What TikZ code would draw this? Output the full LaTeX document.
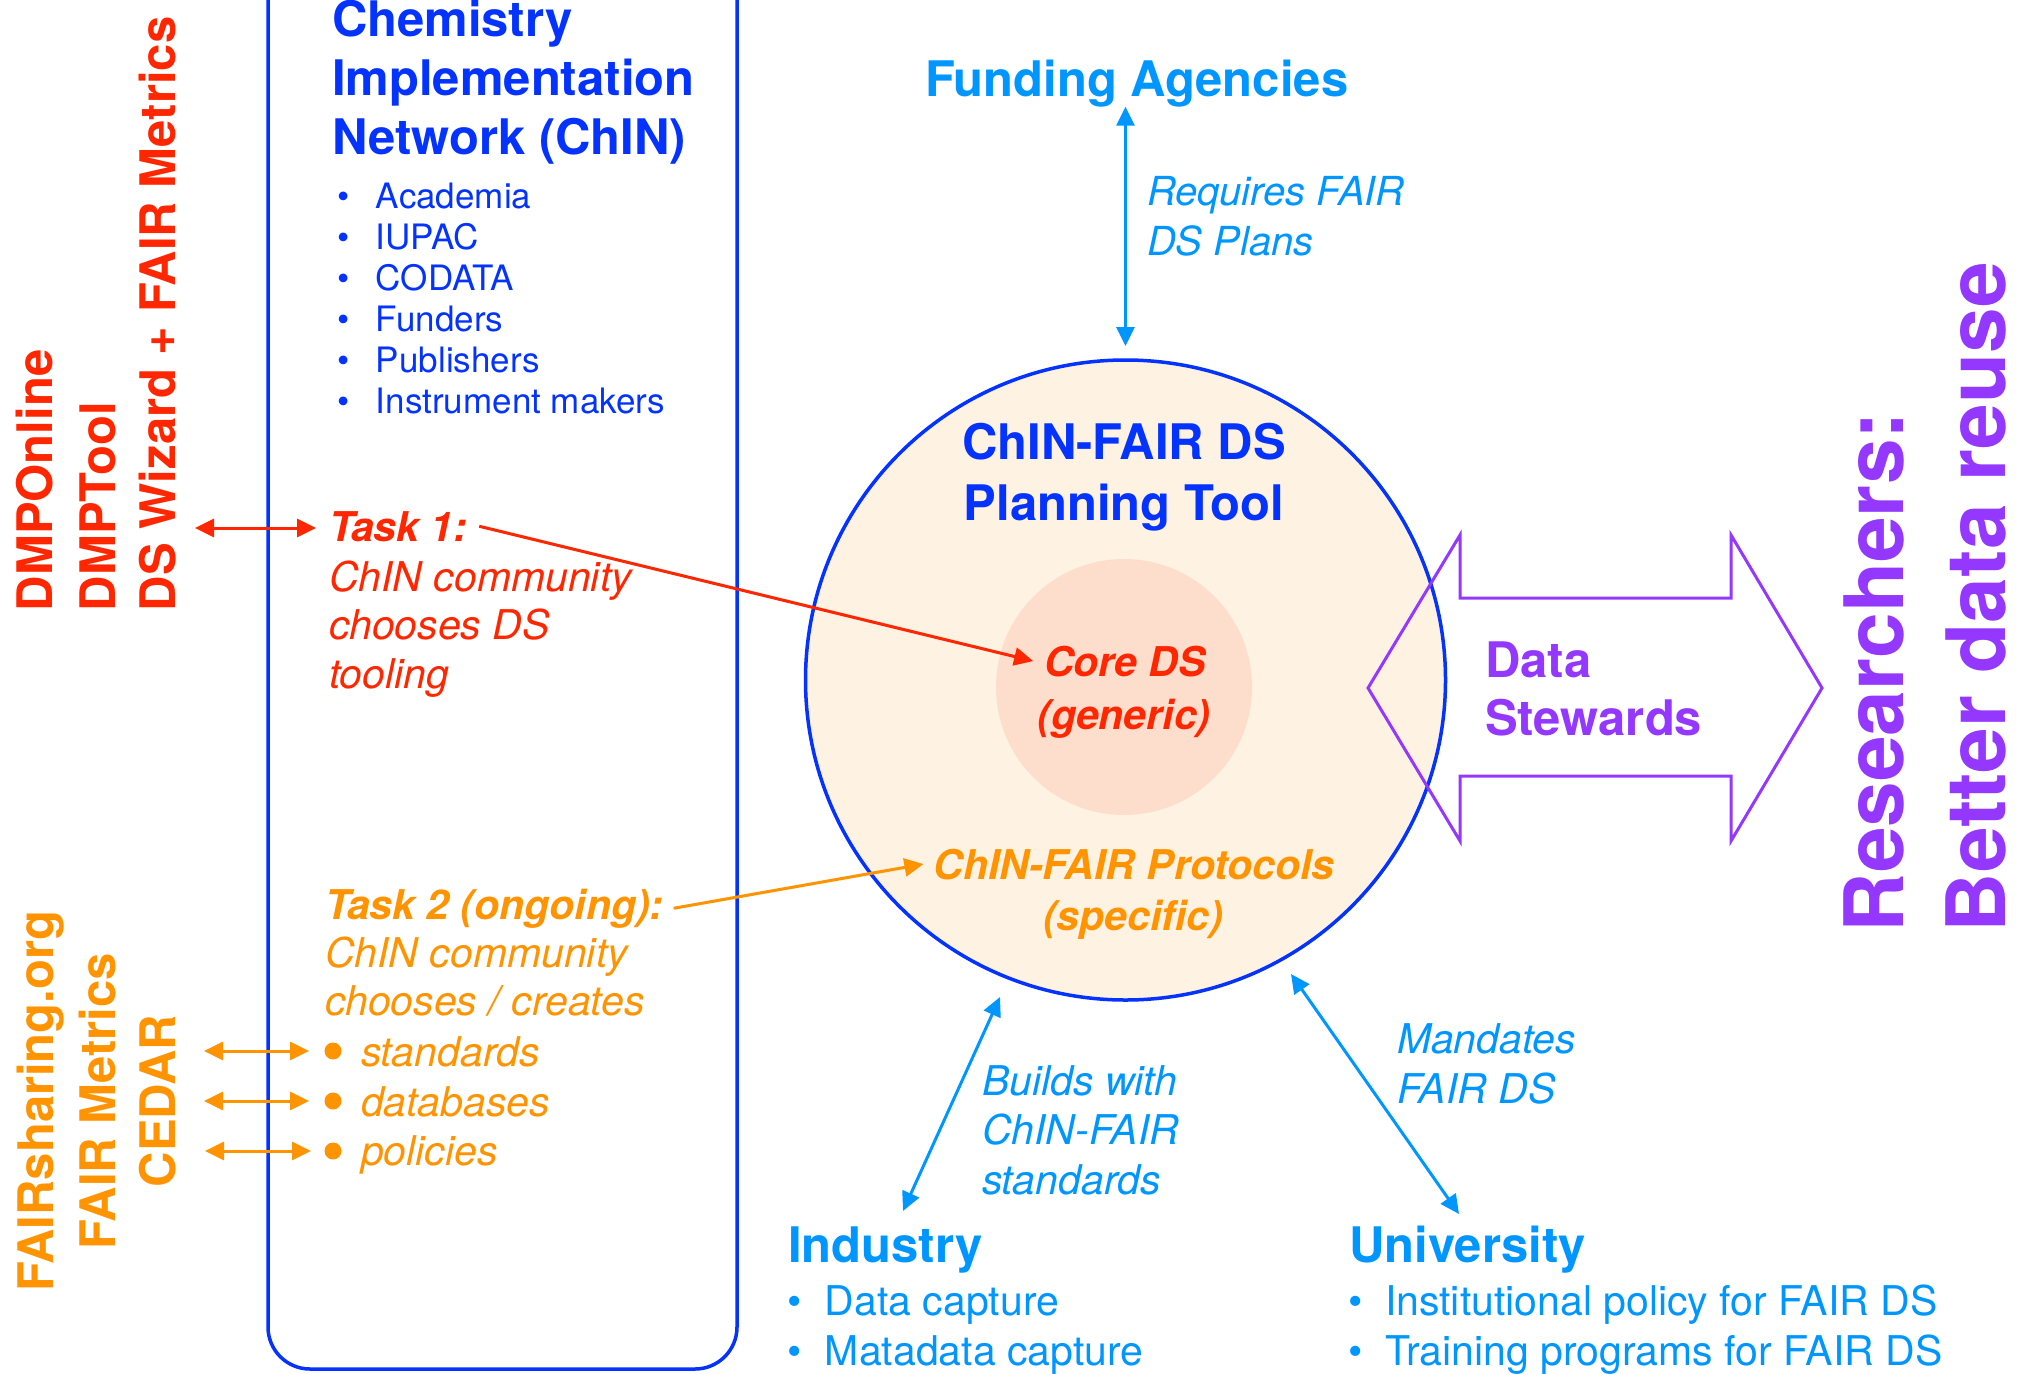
\documentclass[tikz,border=0pt]{standalone}
\usepackage{fontspec}
\setmainfont{TeX Gyre Heros}
\usetikzlibrary{arrows.meta}
\definecolor{kblue}{RGB}{4,51,255}
\definecolor{kaqua}{RGB}{0,150,255}
\definecolor{kred}{RGB}{255,38,0}
\definecolor{korange}{RGB}{255,147,0}
\definecolor{kpurple}{RGB}{148,55,255}
\definecolor{kpeach}{RGB}{254,242,226}
\definecolor{ksalmon}{RGB}{253,221,203}
\newcommand\setfs[1]{\fontsize{#1pt}{#1pt}\selectfont}
\begin{document}
\begin{tikzpicture}[x=1pt,y=-1pt,
  every node/.style={inner sep=0pt,outer sep=0pt},
  hd/.style={-{Triangle[length=19pt,width=18pt]}},
  dhd/.style={{Triangle[length=19pt,width=18pt]}-{Triangle[length=19pt,width=18pt]}},
  conn/.style={line width=3pt},
  vlabel/.style={rotate=90,font=\setfs{49}\bfseries},
  ttl/.style={font=\setfs{49}\bfseries},
  lst/.style={font=\setfs{35},text=kblue,anchor=base west},
  itl/.style={font=\setfs{41}\itshape},
  bit/.style={font=\setfs{41}\bfseries\itshape},
  reg/.style={font=\setfs{41}},
  obul/.style={font=\setfs{41}\itshape,text=korange,anchor=base west},
  odot/.style={circle,fill=korange,minimum size=17pt}]
\useasboundingbox (0,0) rectangle (2025,1373);
\clip (0,0) rectangle (2025,1373);

% ChIN frame
\node[draw=kblue,line width=3.5pt,rounded corners=42pt,minimum width=469pt,minimum height=1429pt] (chinbox) at (502.5,654.5) {};
\node[ttl,text=kblue,anchor=base west] (chem1) at (332,36) {Chemistry};
\node[ttl,text=kblue,anchor=base west] (chem2) at (332,95) {Implementation};
\node[ttl,text=kblue,anchor=base west] (chem3) at (332,154) {Network (ChIN)};
\node[lst] (l1) at (337,208) {\makebox[39pt][l]{•}Academia};
\node[lst] (l2) at (337,249) {\makebox[39pt][l]{•}IUPAC};
\node[lst] (l3) at (337,290) {\makebox[39pt][l]{•}CODATA};
\node[lst] (l4) at (337,331) {\makebox[39pt][l]{•}Funders};
\node[lst] (l5) at (337,372) {\makebox[39pt][l]{•}Publishers};
\node[lst] (l6) at (337,413) {\makebox[39pt][l]{•}Instrument makers};

% red tools
\node[vlabel,text=kred,anchor=base west] (dmpo) at (52,611) {DMPOnline};
\node[vlabel,text=kred,anchor=base west] (dmpt) at (115,611) {DMPTool};
\node[vlabel,text=kred,anchor=base west] (dsw) at (175,611) {DS Wizard + FAIR Metrics};
\coordinate (r1) at (195,528);
\coordinate (r2) at (316,528);
\draw[conn,dhd,kred] (r1) -- (r2);

\node[bit,text=kred,anchor=base west] (t1) at (329,541) {Task 1:};
\node[itl,text=kred,anchor=base west] (t1a) at (329,591) {ChIN community};
\node[itl,text=kred,anchor=base west] (t1b) at (329,639) {chooses DS};
\node[itl,text=kred,anchor=base west] (t1c) at (329,688) {tooling};

% orange resources
\node[vlabel,text=korange,anchor=base] (fsh) at (53,1101) {FAIRsharing.org};
\node[vlabel,text=korange,anchor=base] (fmet) at (115,1101) {FAIR Metrics};
\node[vlabel,text=korange,anchor=base] (cedar) at (175,1101) {CEDAR};
\coordinate (o1a) at (204,1051); \coordinate (o1b) at (309,1051);
\coordinate (o2a) at (204,1101); \coordinate (o2b) at (309,1101);
\coordinate (o3a) at (205,1151); \coordinate (o3b) at (311,1151);
\draw[conn,dhd,korange] (o1a) -- (o1b);
\draw[conn,dhd,korange] (o2a) -- (o2b);
\draw[conn,dhd,korange] (o3a) -- (o3b);

\node[bit,text=korange,anchor=base west] (t2) at (325,919) {Task 2 (ongoing):};
\node[itl,text=korange,anchor=base west] (t2a) at (325,967) {ChIN community};
\node[itl,text=korange,anchor=base west] (t2b) at (325,1015) {chooses / creates};
\node[odot] (d1) at (333,1051) {};
\node[odot] (d2) at (333,1101) {};
\node[odot] (d3) at (333,1151) {};
\node[obul] (s1) at (361,1066) {standards};
\node[obul] (s2) at (361,1116) {databases};
\node[obul] (s3) at (361,1165) {policies};

% planning tool circle
\node[circle,draw=kblue,fill=kpeach,line width=3.5pt,minimum size=640pt] (circ) at (1125.5,680) {};
\node[circle,fill=ksalmon,minimum size=256pt] (inner) at (1124,687) {};
\node[ttl,text=kblue,anchor=base] (tool1) at (1124,459) {ChIN-FAIR DS};
\node[ttl,text=kblue,anchor=base] (tool2) at (1124,520) {Planning Tool};
\node[bit,text=kred,anchor=base] (core) at (1125,676) {Core DS};
\node[bit,text=kred,anchor=base] (gen) at (1124,729) {(generic)};
\node[bit,text=korange,anchor=base] (prot) at (1134,879) {ChIN-FAIR Protocols};
\node[bit,text=korange,anchor=base] (spec) at (1133,930) {(specific)};

\draw[conn,hd,kred] ([xshift=12pt]t1.east) -- ([xshift=-11pt]core.west);
\draw[conn,hd,korange] ([xshift=10pt]t2.east) -- ([xshift=-10pt]prot.west);

% funding
\node[ttl,text=kaqua,anchor=base west] (fund) at (925,96) {Funding Agencies};
\draw[conn,dhd,kaqua] (circ.north |- fund.south) -- ([yshift=14pt]circ.north);
\node[font=\setfs{40}\itshape,text=kaqua,anchor=base west] (req1) at (1147,205) {Requires FAIR};
\node[font=\setfs{40}\itshape,text=kaqua,anchor=base west] (req2) at (1147,255) {DS Plans};

% data stewards arrow
\draw[kpurple,line width=3pt,line join=miter]
  (1368,688) -- (1460,535) -- (1460,598) -- (1731,598) -- (1731,535) -- (1822,688)
  -- (1731,841) -- (1731,776) -- (1460,776) -- (1460,841) -- cycle;
\node[ttl,text=kpurple,anchor=base west] (ds1) at (1485,677) {Data};
\node[ttl,text=kpurple,anchor=base west] (ds2) at (1485,735) {Stewards};
\node[rotate=90,font=\setfs{82}\bfseries,text=kpurple,anchor=base west] (res) at (1903,932) {Researchers:};
\node[rotate=90,font=\setfs{82}\bfseries,text=kpurple,anchor=base west] (bdr) at (2005,932) {Better data reuse};

% industry / university
\coordinate (ia) at (1000,997); \coordinate (ib) at (903,1211);
\draw[conn,dhd,kaqua] (ia) -- (ib);
\coordinate (ua) at (1291,974); \coordinate (ub) at (1459,1214);
\draw[conn,dhd,kaqua] (ua) -- (ub);
\node[itl,text=kaqua,anchor=base west] (b1) at (982,1095) {Builds with};
\node[itl,text=kaqua,anchor=base west] (b2) at (982,1144) {ChIN-FAIR};
\node[itl,text=kaqua,anchor=base west] (b3) at (982,1194) {standards};
\node[itl,text=kaqua,anchor=base west] (m1) at (1397,1053) {Mandates};
\node[itl,text=kaqua,anchor=base west] (m2) at (1397,1103) {FAIR DS};

\node[ttl,text=kaqua,anchor=base west] (ind) at (788,1262) {Industry};
\node[reg,text=kaqua,anchor=base west] (ind1) at (787.5,1315) {\makebox[37.5pt][l]{•}Data capture};
\node[reg,text=kaqua,anchor=base west] (ind2) at (787.5,1365) {\makebox[37.5pt][l]{•}Matadata capture};
\node[ttl,text=kaqua,anchor=base west] (uni) at (1349,1262) {University};
\node[reg,text=kaqua,anchor=base west] (uni1) at (1348,1315) {\makebox[37pt][l]{•}Institutional policy for FAIR DS};
\node[reg,text=kaqua,anchor=base west] (uni2) at (1348,1365) {\makebox[37pt][l]{•}Training programs for FAIR DS};
\end{tikzpicture}
\end{document}
